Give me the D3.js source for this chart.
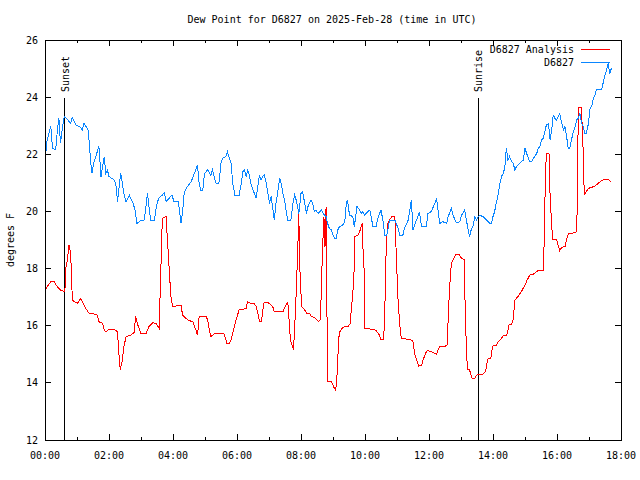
<!DOCTYPE html>
<html>
<head>
<meta charset="utf-8">
<script src="https://cdn.jsdelivr.net/npm/d3@7"></script>
<style>
  body { margin: 0; background: #fff; }
  svg text { font-family: "DejaVu Sans Mono", monospace; font-size: 10px; fill: #000; }
</style>
</head>
<body>
<svg width="640" height="480"></svg>
<script>
const title = 'Dew Point for D6827 on 2025-Feb-28 (time in UTC)';
const yLabel = 'degrees F';
const seriesNames = ['D6827 Analysis', 'D6827'];
const seriesColors = ['#ff0000', '#0a86ff'];

// minutes after 00:00 UTC
const xTickLabels = ['00:00', '02:00', '04:00', '06:00', '08:00', '10:00', '12:00', '14:00', '16:00', '18:00'];
const yTicks = [12, 14, 16, 18, 20, 22, 24, 26];
const sunEvents = ['Sunset', 'Sunrise'];
const sunTimes = [37, 812];

// D6827 Analysis (red)
const analysisTimes = [1, 4, 11, 17, 23, 29, 36, 38, 39, 42, 45, 47, 50, 51, 55, 61, 67, 70, 76, 83, 92, 98, 101, 108, 111, 114, 120, 130, 136, 138, 141, 144, 148, 152, 161, 167, 170, 173, 180, 189, 195, 202, 208, 214, 217, 220, 227, 230, 233, 236, 239, 245, 255, 258, 264, 270, 277, 283, 286, 289, 302, 305, 308, 311, 317, 327, 336, 341, 346, 349, 355, 358, 364, 371, 377, 380, 386, 393, 396, 399, 402, 406, 408, 411, 418, 424, 427, 430, 446, 452, 455, 457, 458, 461, 466, 468, 470, 471, 473, 475, 476, 477, 479, 481, 487, 491, 496, 499, 505, 510, 513, 516, 518, 520, 523, 525, 527, 528, 529, 530, 537, 541, 545, 547, 549, 550, 552, 557, 562, 568, 572, 576, 579, 581, 587, 591, 595, 596, 599, 600, 615, 621, 627, 630, 635, 637, 640, 643, 646, 651, 656, 659, 662, 665, 668, 681, 687, 690, 693, 697, 701, 706, 710, 715, 718, 724, 734, 740, 749, 754, 757, 760, 762, 765, 771, 776, 781, 786, 788, 790, 792, 796, 801, 806, 809, 821, 826, 828, 831, 836, 838, 840, 846, 850, 856, 859, 866, 870, 875, 878, 881, 887, 893, 900, 904, 909, 915, 922, 925, 934, 936, 938, 940, 945, 947, 950, 952, 959, 962, 965, 969, 975, 978, 981, 994, 997, 998, 1000, 1006, 1007, 1009, 1010, 1012, 1015, 1019, 1025, 1031, 1037, 1044, 1050, 1056, 1061];
const analysisValues = [17.27, 17.37, 17.54, 17.54, 17.37, 17.25, 17.19, 17.37, 18.01, 18.30, 18.82, 18.65, 17.89, 16.90, 16.84, 16.78, 16.96, 16.84, 16.61, 16.43, 16.41, 16.37, 16.14, 16.08, 15.85, 15.79, 15.87, 15.87, 15.79, 15.15, 14.47, 14.68, 15.27, 15.62, 15.67, 15.76, 16.32, 16.08, 15.73, 15.71, 15.97, 16.11, 16.08, 15.91, 17.83, 19.76, 19.82, 18.88, 17.95, 17.02, 16.69, 16.69, 16.72, 16.37, 16.26, 16.18, 16.14, 15.85, 15.67, 16.32, 16.32, 16.20, 15.85, 15.62, 15.71, 15.73, 15.71, 15.38, 15.38, 15.50, 15.97, 16.20, 16.55, 16.57, 16.61, 16.84, 16.78, 16.76, 16.67, 16.43, 16.16, 16.16, 16.49, 16.82, 16.81, 16.72, 16.67, 16.49, 16.49, 16.72, 16.81, 16.55, 15.97, 15.44, 15.15, 15.97, 16.55, 17.25, 18.18, 19.29, 19.93, 18.30, 17.60, 16.67, 16.55, 16.43, 16.43, 16.32, 16.29, 16.20, 16.14, 16.20, 17.13, 18.53, 19.82, 18.77, 20.17, 18.65, 15.62, 14.04, 14.04, 13.87, 13.73, 14.10, 14.74, 15.38, 15.76, 15.91, 15.97, 15.97, 16.06, 16.90, 17.60, 19.12, 19.17, 19.35, 19.61, 18.77, 17.72, 15.91, 15.87, 15.83, 15.67, 15.52, 15.52, 16.43, 18.94, 19.58, 19.70, 19.84, 19.84, 18.30, 16.90, 16.08, 15.56, 15.52, 15.50, 15.44, 15.03, 14.80, 14.59, 14.62, 14.86, 15.09, 15.13, 15.09, 15.01, 15.27, 15.27, 15.32, 16.72, 17.72, 18.18, 18.30, 18.51, 18.51, 18.36, 18.32, 16.43, 15.27, 14.47, 14.45, 14.16, 14.16, 14.27, 14.30, 14.39, 14.62, 14.86, 14.86, 15.15, 15.29, 15.32, 15.44, 15.56, 15.64, 15.67, 16.02, 16.06, 16.22, 16.90, 17.02, 17.19, 17.42, 17.60, 17.77, 17.80, 17.89, 17.95, 17.95, 18.94, 20.98, 22.03, 22.03, 20.57, 19.52, 19.02, 19.02, 18.82, 18.63, 18.74, 18.77, 19.02, 19.21, 19.26, 19.29, 20.40, 23.64, 23.64, 23.08, 22.15, 21.10, 20.61, 20.69, 20.81, 20.84, 20.89, 20.98, 21.08, 21.13, 21.12, 21.04];

// D6827 observations (blue)
const obsTimes = [1, 4, 9, 11, 14, 20, 23, 26, 29, 33, 36, 39, 48, 51, 58, 67, 70, 73, 81, 86, 88, 92, 98, 101, 105, 111, 114, 117, 120, 130, 133, 136, 139, 142, 148, 152, 158, 164, 169, 172, 180, 186, 189, 192, 195, 198, 205, 209, 213, 220, 224, 227, 238, 242, 250, 255, 258, 261, 267, 274, 280, 286, 289, 292, 296, 299, 305, 311, 314, 317, 321, 326, 330, 333, 339, 342, 349, 352, 356, 364, 368, 371, 374, 377, 380, 383, 386, 389, 396, 399, 402, 405, 408, 411, 415, 418, 421, 424, 427, 430, 433, 436, 440, 443, 446, 449, 452, 455, 461, 465, 468, 471, 476, 480, 483, 487, 490, 493, 499, 502, 505, 508, 512, 515, 518, 524, 527, 530, 533, 537, 540, 543, 546, 549, 552, 558, 562, 565, 567, 571, 577, 580, 585, 590, 593, 596, 599, 605, 609, 612, 615, 621, 624, 630, 634, 637, 641, 646, 656, 662, 665, 671, 674, 681, 684, 687, 690, 693, 699, 702, 706, 715, 718, 724, 731, 734, 737, 740, 746, 753, 756, 762, 765, 771, 778, 781, 787, 790, 793, 796, 799, 803, 806, 809, 812, 815, 821, 828, 834, 837, 840, 843, 846, 850, 853, 856, 859, 862, 865, 868, 871, 875, 878, 881, 884, 890, 897, 900, 903, 909, 912, 918, 922, 925, 928, 931, 934, 937, 940, 944, 947, 950, 953, 956, 959, 962, 965, 969, 972, 975, 978, 981, 984, 987, 990, 994, 997, 1000, 1003, 1006, 1009, 1012, 1015, 1019, 1022, 1025, 1028, 1031, 1034, 1044, 1047, 1050, 1053, 1056, 1059, 1062];
const obsValues = [21.94, 22.50, 22.85, 22.97, 22.21, 22.15, 22.79, 23.26, 22.38, 22.97, 23.32, 23.29, 23.08, 23.29, 23.02, 22.94, 22.85, 23.08, 22.85, 21.68, 21.33, 21.74, 22.09, 22.29, 21.22, 21.92, 21.33, 21.45, 21.22, 21.10, 20.93, 20.34, 20.87, 21.33, 20.63, 20.34, 20.57, 20.34, 20.05, 19.58, 19.68, 19.70, 20.11, 20.63, 20.17, 19.70, 19.70, 20.17, 20.46, 20.57, 20.66, 20.34, 20.57, 20.34, 20.34, 19.58, 19.99, 20.66, 20.87, 21.04, 21.33, 21.62, 20.98, 20.75, 20.75, 21.33, 21.45, 21.27, 21.45, 21.22, 20.98, 20.98, 21.68, 21.86, 21.92, 22.09, 21.68, 20.98, 20.57, 20.57, 20.98, 21.39, 21.45, 21.22, 21.45, 21.27, 20.98, 20.81, 20.46, 20.87, 21.27, 21.10, 21.22, 21.27, 20.98, 20.63, 20.28, 20.52, 20.11, 19.70, 20.28, 20.63, 21.16, 20.98, 20.63, 20.40, 20.05, 19.70, 19.70, 20.28, 20.57, 20.40, 19.93, 20.63, 20.69, 20.28, 19.93, 20.17, 20.40, 20.28, 19.99, 20.05, 19.93, 19.99, 20.05, 19.87, 19.82, 19.58, 19.41, 19.35, 19.17, 19.06, 19.06, 19.35, 19.47, 19.52, 19.64, 20.28, 20.40, 19.87, 19.82, 19.47, 20.17, 20.05, 19.93, 19.99, 19.87, 19.99, 20.05, 19.76, 19.47, 19.47, 19.76, 20.05, 19.64, 19.17, 19.17, 19.70, 19.70, 19.41, 19.17, 19.17, 19.41, 19.70, 20.05, 20.40, 19.35, 19.52, 19.82, 19.99, 19.47, 19.47, 19.93, 19.99, 20.28, 20.46, 20.05, 19.58, 19.64, 19.58, 19.82, 20.11, 19.87, 19.61, 19.64, 19.87, 20.05, 19.70, 19.41, 19.12, 19.35, 19.52, 19.82, 19.70, 19.82, 19.87, 19.82, 19.70, 19.58, 19.58, 19.82, 19.99, 20.28, 20.63, 20.98, 21.22, 21.33, 21.51, 22.21, 21.80, 21.92, 21.74, 21.68, 21.45, 21.57, 21.68, 21.80, 22.21, 22.03, 21.74, 21.74, 21.92, 22.03, 22.21, 22.27, 22.50, 22.56, 22.79, 23.02, 23.08, 22.50, 22.85, 23.37, 23.26, 23.20, 23.32, 23.43, 23.08, 22.85, 22.97, 22.62, 22.21, 22.21, 22.50, 22.73, 22.97, 23.20, 23.26, 23.43, 23.08, 22.97, 22.73, 22.73, 23.08, 23.61, 23.67, 23.96, 24.07, 24.27, 24.27, 24.54, 24.77, 24.95, 25.18, 24.83, 25.01];

const plotLeft = 45, plotRight = 621, plotTop = 40, plotBottom = 440;

const svg = d3.select('svg');

const x = d3.scaleLinear()
  .domain([0, (xTickLabels.length - 1) * 120])
  .range([plotLeft, plotRight]);

const y = d3.scaleLinear()
  .domain([yTicks[0], yTicks[yTicks.length - 1]])
  .range([plotBottom, plotTop]);

const majorX = xTickLabels.map((d, i) => i * 120);
const minorX = d3.range(60, x.domain()[1], 120);

// ticks (inward, mirrored like gnuplot)
const ticks = svg.append('g')
  .attr('stroke', '#000')
  .attr('shape-rendering', 'crispEdges');

majorX.forEach(t => {
  ticks.append('line').attr('x1', x(t)).attr('x2', x(t)).attr('y1', plotBottom).attr('y2', plotBottom - 6);
  ticks.append('line').attr('x1', x(t)).attr('x2', x(t)).attr('y1', plotTop).attr('y2', plotTop + 6);
});
minorX.forEach(t => {
  ticks.append('line').attr('x1', x(t)).attr('x2', x(t)).attr('y1', plotBottom).attr('y2', plotBottom - 3);
  ticks.append('line').attr('x1', x(t)).attr('x2', x(t)).attr('y1', plotTop).attr('y2', plotTop + 3);
});
yTicks.forEach(v => {
  ticks.append('line').attr('x1', plotLeft).attr('x2', plotLeft + 6).attr('y1', y(v)).attr('y2', y(v));
  ticks.append('line').attr('x1', plotRight).attr('x2', plotRight - 6).attr('y1', y(v)).attr('y2', y(v));
});

// tick labels
svg.append('g')
  .selectAll('text')
  .data(majorX)
  .join('text')
  .attr('x', d => x(d))
  .attr('y', plotBottom + 15)
  .attr('dy', '0.35em')
  .attr('text-anchor', 'middle')
  .text((d, i) => xTickLabels[i]);

svg.append('g')
  .selectAll('text')
  .data(yTicks)
  .join('text')
  .attr('x', plotLeft - 7)
  .attr('y', d => y(d))
  .attr('dy', '0.35em')
  .attr('text-anchor', 'end')
  .text(d => d);

// sunset / sunrise markers
sunTimes.forEach((t, i) => {
  svg.append('line')
    .attr('x1', x(t)).attr('x2', x(t))
    .attr('y1', 98).attr('y2', plotBottom)
    .attr('stroke', '#000')
    .attr('shape-rendering', 'crispEdges');
  svg.append('text')
    .attr('transform', `translate(${x(t) + 4},92) rotate(-90)`)
    .attr('text-anchor', 'start')
    .text(sunEvents[i]);
});

// series
const line = d3.line()
  .x(d => x(d[0]))
  .y(d => y(d[1]));

const series = [
  d3.zip(analysisTimes, analysisValues),
  d3.zip(obsTimes, obsValues)
];

series.forEach((pts, i) => {
  svg.append('path')
    .datum(pts)
    .attr('d', line)
    .attr('fill', 'none')
    .attr('stroke', seriesColors[i])
    .attr('stroke-width', 1)
    .attr('shape-rendering', 'crispEdges');
});

// frame
svg.append('rect')
  .attr('x', plotLeft).attr('y', plotTop)
  .attr('width', plotRight - plotLeft).attr('height', plotBottom - plotTop)
  .attr('fill', 'none')
  .attr('stroke', '#000')
  .attr('shape-rendering', 'crispEdges');

// legend
seriesNames.forEach((name, i) => {
  const ly = 49.5 + i * 13;
  svg.append('text')
    .attr('x', 574)
    .attr('y', ly)
    .attr('dy', '0.35em')
    .attr('text-anchor', 'end')
    .text(name);
  svg.append('line')
    .attr('x1', 581).attr('x2', 610)
    .attr('y1', ly).attr('y2', ly)
    .attr('stroke', seriesColors[i])
    .attr('shape-rendering', 'crispEdges');
});

// title and axis label
svg.append('text')
  .attr('x', 332)
  .attr('y', 19)
  .attr('dy', '0.35em')
  .attr('text-anchor', 'middle')
  .text(title);

svg.append('text')
  .attr('transform', `translate(14,${(plotTop + plotBottom) / 2}) rotate(-90)`)
  .attr('text-anchor', 'middle')
  .text(yLabel);
</script>
</body>
</html>
